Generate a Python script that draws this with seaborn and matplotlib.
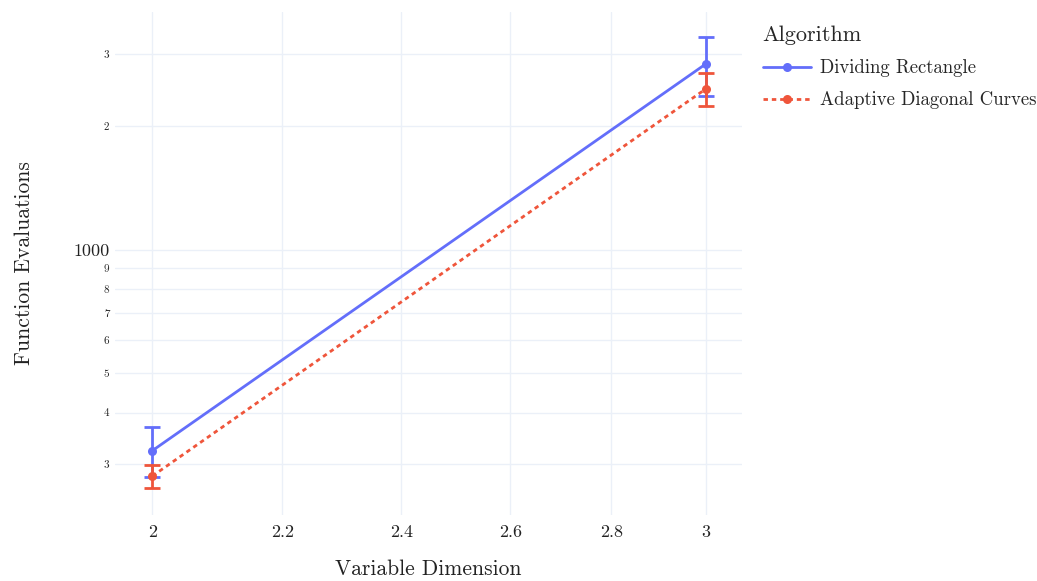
import matplotlib
matplotlib.use("Agg")
import matplotlib.pyplot as plt
from matplotlib.ticker import FixedLocator, FixedFormatter, NullLocator
import numpy as np
import pandas as pd
import seaborn as sns

# Mean function evaluations and their spread per algorithm
dimensions = [2, 3]
algorithms = ["Dividing Rectangle", "Adaptive Diagonal Curves"]
rect_mean = [323, 2836]
rect_err = [45, 465]
adc_mean = [280, 2465]
adc_err = [18, 228]

y_ticks = [300, 400, 500, 600, 700, 800, 900, 1000, 2000, 3000]
y_labels = ["3", "4", "5", "6", "7", "8", "9", "1000", "2", "3"]
x_ticks = [2, 2.2, 2.4, 2.6, 2.8, 3]
x_labels = ["2", "2.2", "2.4", "2.6", "2.8", "3"]

colors = {"Dividing Rectangle": "#636EFA", "Adaptive Diagonal Curves": "#EF553B"}
grid_color = "#EBF0F8"
text_color = "#222222"

sns.set_theme(style="white")
plt.rcParams["font.family"] = ["cmr10", "DejaVu Serif"]
plt.rcParams["axes.formatter.use_mathtext"] = True

df = pd.DataFrame({
    "Variable Dimension": dimensions * 2,
    "Function Evaluations": rect_mean + adc_mean,
    "Error": rect_err + adc_err,
    "Algorithm": [algorithms[0]] * 2 + [algorithms[1]] * 2,
})

fig = plt.figure(figsize=(10.37, 5.81), dpi=100)
ax = fig.add_axes([115 / 1037, 1 - 515 / 581, (742 - 115) / 1037, (515 - 12) / 581])

ax.set_xscale("log")
ax.set_yscale("log")

# error bars drawn first so the lines and markers sit on top
for alg in algorithms:
    sub = df[df["Algorithm"] == alg]
    ax.errorbar(sub["Variable Dimension"], sub["Function Evaluations"],
                yerr=sub["Error"], fmt="none", ecolor=colors[alg],
                elinewidth=2.0, capsize=5.5, capthick=2.0, zorder=3)

sns.lineplot(data=df, x="Variable Dimension", y="Function Evaluations",
             hue="Algorithm", style="Algorithm", hue_order=algorithms,
             style_order=algorithms, palette=colors,
             dashes={algorithms[0]: "", algorithms[1]: (1.6, 1.4)},
             markers={algorithms[0]: "o", algorithms[1]: "o"},
             markersize=6.5, markeredgewidth=0, linewidth=2.0,
             errorbar=None, ax=ax, zorder=4)

ax.set_xlim(1.946, 3.081)
ax.set_ylim(225, 3800)

ax.xaxis.set_major_locator(FixedLocator(x_ticks))
ax.xaxis.set_major_formatter(FixedFormatter(x_labels))
ax.xaxis.set_minor_locator(NullLocator())
ax.yaxis.set_major_locator(FixedLocator(y_ticks))
ax.yaxis.set_major_formatter(FixedFormatter(y_labels))
ax.yaxis.set_minor_locator(NullLocator())

for lbl, val in zip(ax.get_yticklabels(), y_ticks):
    lbl.set_fontsize(13 if val == 1000 else 8)
for lbl in ax.get_xticklabels():
    lbl.set_fontsize(13)

ax.tick_params(axis="both", length=0, colors=text_color)
ax.tick_params(axis="y", pad=4)
ax.tick_params(axis="x", pad=7)

ax.grid(True, color=grid_color, linewidth=1.0)
ax.set_axisbelow(True)
for s in ax.spines.values():
    s.set_visible(False)

ax.set_xlabel("Variable Dimension", fontsize=15.5, color=text_color, labelpad=14)
ax.set_ylabel("Function Evaluations", fontsize=15.5, color=text_color, labelpad=28)

handles, labels = ax.get_legend_handles_labels()
ax.legend_.remove()
leg = fig.legend(handles, labels, title="Algorithm", loc="upper left",
                 bbox_to_anchor=(755 / 1037, 1 - 18 / 581), frameon=False,
                 fontsize=13.5, title_fontsize=16, handlelength=2.6,
                 handletextpad=0.45, labelspacing=0.75, borderaxespad=0)
leg._legend_box.align = "left"

fig.savefig("out.png", dpi=100)
